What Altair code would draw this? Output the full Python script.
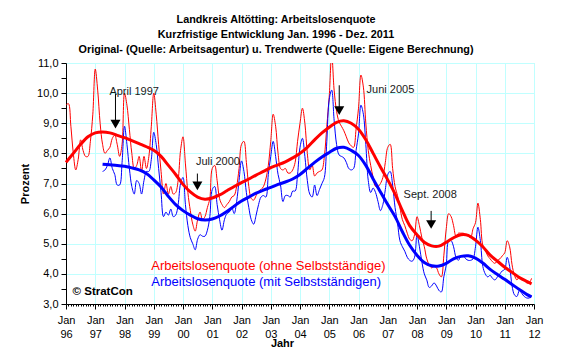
import altair as alt
import pandas as pd

FONT = "Liberation Sans"

# Monthly values, Jan 1996 (index 0) .. Dec 2011 (index 191)
red_monthly = [
    9.6, 9.65, 8.9, 8.0, 7.45, 7.8, 8.45, 8.1, 7.9, 7.9, 8.4, 9.3,
    10.8, 10.1, 9.0, 8.3, 8.0, 8.1, 8.2, 8.5, 8.6, 8.3, 7.9, 8.3,
    10.0, 9.6, 8.8, 8.0, 7.5, 7.6, 7.9, 7.4, 7.9, 7.5, 7.9, 8.9,
    10.0, 9.3, 8.3, 7.4, 6.65, 7.0, 6.65, 6.9, 6.65, 6.7, 7.1, 8.1,
    8.55, 7.65, 6.7, 6.1, 5.65, 5.42, 5.8, 6.05, 5.8, 5.9, 6.2, 6.5,
    7.5, 7.6, 7.1, 6.5, 6.3, 6.2, 6.3, 6.4, 6.55, 6.6, 6.9, 7.5,
    8.3, 8.4, 7.7, 6.9, 6.5, 6.45, 6.6, 6.75, 6.8, 6.9, 7.15, 7.6,
    8.4, 9.3, 8.9, 8.0, 7.5, 7.45, 7.5, 7.35, 7.35, 7.45, 7.7, 8.4,
    9.0, 9.5, 9.0, 8.0, 7.45, 7.6, 7.25, 7.35, 7.4, 7.45, 7.9, 8.9,
    9.9, 11.3, 10.1, 9.4, 9.05, 8.9, 8.75, 8.55, 8.35, 8.25, 8.2, 8.8,
    9.5, 10.6, 10.2, 9.0, 8.1, 7.6, 7.2, 6.9, 6.9, 7.0, 7.2, 7.7,
    8.2, 8.3, 7.5, 6.9, 6.6, 6.2, 5.8, 5.6, 5.35, 5.15, 5.1, 5.3,
    5.9, 5.6, 5.2, 4.9, 4.5, 4.3, 4.2, 4.25, 4.2, 4.0, 3.9, 4.6,
    5.5, 6.0, 5.9, 5.6, 5.25, 5.35, 5.35, 5.35, 5.3, 5.25, 5.2, 5.5,
    5.7, 6.35, 5.8, 4.95, 4.8, 4.6, 4.5, 4.4, 4.35, 4.45, 4.5, 4.6,
    4.7, 5.1, 4.9, 4.3, 3.95, 3.8, 3.9, 3.8, 3.8, 3.7, 3.7, 3.85,
]

blue_monthly = [None] * 15 + [
    7.4, 7.45, 7.6, 7.85, 7.5, 7.3, 6.95, 6.95, 7.7,
    8.9, 8.3, 7.5, 6.9, 6.65, 7.1, 7.0, 6.65, 7.1, 7.4, 7.4, 7.8,
    8.7, 8.3, 7.5, 6.7, 5.9, 6.05, 5.95, 6.15, 5.9, 5.95, 6.3, 7.0,
    7.2, 6.3, 5.6, 5.2, 5.0, 4.8, 5.15, 5.3, 5.25, 5.25, 5.45, 5.9,
    6.8, 6.9, 6.3, 5.8, 5.45, 5.8, 6.0, 6.05, 6.2, 6.0, 6.4, 7.1,
    7.75, 7.4, 6.7, 6.2, 5.8, 5.65, 5.95, 6.3, 6.55, 6.6, 6.55, 7.3,
    7.9, 8.4, 7.9, 7.3, 6.95, 6.4, 6.6, 6.6, 6.55, 6.75, 6.75, 7.3,
    8.2, 8.5, 7.9, 7.1, 6.65, 6.55, 6.95, 6.6, 6.8, 7.0, 7.2, 8.4,
    9.8, 10.1, 9.1, 8.3, 7.95, 7.9, 7.85, 7.7, 7.5, 7.45, 7.5, 8.1,
    8.65, 9.6, 9.3, 8.3, 7.1, 6.7, 6.85, 6.7, 6.4, 6.1, 6.3, 6.8,
    7.3, 7.4, 6.95, 6.2, 5.7, 5.1, 4.9, 4.75, 4.55, 4.45, 4.42, 4.55,
    5.3, 4.9, 4.4, 4.0, 3.8, 3.55, 3.6, 3.7, 3.6, 3.45, 3.4, 3.9,
    4.3, 5.1, 5.1, 4.9, 4.55, 4.45, 4.6, 4.6, 4.5, 4.45, 4.45, 4.5,
    4.9, 5.55, 5.1, 4.25, 4.0, 3.9, 3.95, 3.85, 3.8, 3.9, 4.0, 4.1,
    4.15, 4.55, 4.25, 3.6, 3.3, 3.25, 3.45, 3.35, 3.25, 3.2, 3.2, 3.25,
]

# Trend values read at quarterly month indices
red_trend_idx = list(range(0, 190, 3)) + [191]
red_trend_val = [
    7.7, 8.0, 8.3, 8.55, 8.68, 8.71, 8.68, 8.6, 8.52, 8.42, 8.32, 8.22,
    8.1, 7.9, 7.6, 7.3, 6.97, 6.72, 6.55, 6.48, 6.52, 6.62, 6.76, 6.9,
    7.03, 7.15, 7.28, 7.4, 7.53, 7.62, 7.72, 7.85, 8.0, 8.2, 8.45, 8.68,
    8.87, 9.03, 9.08, 9.0, 8.8, 8.45, 8.0, 7.55, 7.12, 6.65, 6.1, 5.6,
    5.3, 5.05, 4.93, 4.92, 5.05, 5.2, 5.3, 5.28, 5.12, 4.9, 4.62, 4.42,
    4.22, 4.05, 3.88, 3.75, 3.67,
]
blue_trend_idx = list(range(15, 190, 3)) + [191]
blue_trend_val = [
    7.64, 7.62, 7.6, 7.57, 7.52, 7.45, 7.33, 7.12, 6.88, 6.57, 6.3, 6.1,
    5.95, 5.83, 5.79, 5.82, 5.92, 6.07, 6.25, 6.42, 6.55, 6.68, 6.78, 6.87,
    6.97, 7.05, 7.15, 7.3, 7.5, 7.7, 7.88, 8.03, 8.17, 8.2, 8.1, 7.93,
    7.6, 7.15, 6.72, 6.3, 5.9, 5.4, 4.95, 4.62, 4.38, 4.27, 4.26, 4.35,
    4.5, 4.58, 4.6, 4.52, 4.36, 4.15, 3.98, 3.82, 3.65, 3.48, 3.32, 3.24,
]

# Annotations (arrows and labels), positions in data units
ann_text = ["April 1997", "Juli 2000", "Juni 2005", "Sept. 2008"]
ann_text_x = [17.8, 53.3, 123.3, 138.5]
ann_text_y = [10.03, 7.7, 10.09, 6.63]
arrow_x = [20.3, 53.9, 112.1, 149.8]
arrow_top = [9.97, 7.33, 10.26, 6.09]
arrow_head = [8.97, 6.92, 9.42, 5.64]

legend_text = ["Arbeitslosenquote (ohne Selbstständige)",
               "Arbeitslosenquote (mit Selbstständigen)"]
legend_color = ["#ff0000", "#0000ff"]
legend_x = [35.0, 35.0]
legend_y = [4.27, 3.73]

title_lines = ["Landkreis Altötting: Arbeitslosenquote",
               "Kurzfristige Entwicklung Jan. 1996 - Dez. 2011",
               "Original- (Quelle: Arbeitsagentur) u. Trendwerte (Quelle: Eigene Berechnung)"]

months = list(range(len(red_monthly)))
df_red = pd.DataFrame({"i": months, "v": red_monthly})
df_blue = pd.DataFrame({"i": months, "v": blue_monthly}).dropna()
df_rt = pd.DataFrame({"i": red_trend_idx, "v": red_trend_val})
df_bt = pd.DataFrame({"i": blue_trend_idx, "v": blue_trend_val})
df_ann = pd.DataFrame({"x": ann_text_x, "y": ann_text_y, "t": ann_text})
df_arrow = pd.DataFrame({"x": arrow_x, "top": arrow_top, "head": arrow_head})
df_leg = pd.DataFrame({"x": legend_x, "y": legend_y, "t": legend_text, "c": legend_color})
df_copy = pd.DataFrame({"x": [2.7], "y": [3.41], "t": ["© StratCon"]})

x_axis = alt.Axis(
    values=list(range(0, 193)), tickCount=1000,
    labelExpr="datum.value % 12 == 0 ? ['Jan', format((96 + datum.value / 12) % 100, '02d')] : ''",
    labelOverlap=False, labelFlush=False, labelBound=False,
    labelFont=FONT, labelFontSize=11, labelColor="#000000", labelLineHeight=14,
    labelPadding=5,
    tickSize={"condition": {"test": "datum.value % 12 == 0", "value": 5}, "value": 2},
    tickColor="#000000", domainColor="#000000",
    grid=True, gridColor="#c0ffff", gridWidth=1,
    gridOpacity={"condition": {"test": "datum.value % 12 == 0", "value": 1}, "value": 0},
    title="Jahr", titleFont=FONT, titleFontSize=11, titleFontWeight="bold",
    titleColor="#000000", titleX=216, titleY=33, titleBaseline="top", titleAlign="center",
)
y_axis = alt.Axis(
    values=[3 + 0.5 * k for k in range(17)], tickCount=1000,
    labelExpr="datum.value % 1 == 0 ? replace(format(datum.value, '.1f'), '.', ',') : ''",
    labelOverlap=False, labelFont=FONT, labelFontSize=11, labelColor="#000000",
    labelPadding=3, tickSize=5, tickColor="#000000", domainColor="#000000",
    grid=True, gridColor="#c0ffff", gridWidth=1,
    gridOpacity={"condition": {"test": "datum.value % 1 == 0", "value": 1}, "value": 0},
    title="Prozent", titleFont=FONT, titleFontSize=11, titleFontWeight="bold",
    titleColor="#000000", titleX=-36,
)

xs = alt.Scale(domain=[0, 192], nice=False, zero=False)
ys = alt.Scale(domain=[3, 11], nice=False, zero=False)

base_x = alt.X("i:Q", scale=xs, axis=x_axis)
base_y = alt.Y("v:Q", scale=ys, axis=y_axis)

red_line = alt.Chart(df_red).mark_line(color="#ff0000", strokeWidth=1, interpolate="catmull-rom", clip=True).encode(x=base_x, y=base_y)
blue_line = alt.Chart(df_blue).mark_line(color="#0000ff", strokeWidth=1, interpolate="catmull-rom", clip=True).encode(x="i:Q", y="v:Q")
red_tr = alt.Chart(df_rt).mark_line(color="#ff0000", strokeWidth=3, interpolate="catmull-rom").encode(x="i:Q", y="v:Q")
blue_tr = alt.Chart(df_bt).mark_line(color="#0000ff", strokeWidth=3, interpolate="catmull-rom").encode(x="i:Q", y="v:Q")

arrow_shaft = alt.Chart(df_arrow).mark_rule(color="#000000", strokeWidth=1).encode(
    x=alt.X("x:Q", scale=xs), y=alt.Y("top:Q", scale=ys), y2="head:Q")
arrow_tip = alt.Chart(df_arrow).mark_point(shape="triangle-down", filled=True, color="#000000", size=100, opacity=1).encode(
    x=alt.X("x:Q", scale=xs), y=alt.Y("head:Q", scale=ys))
ann = alt.Chart(df_ann).mark_text(align="left", baseline="middle", font=FONT, fontSize=11, color="#1a1a1a").encode(
    x=alt.X("x:Q", scale=xs), y=alt.Y("y:Q", scale=ys), text="t:N")
leg = alt.Chart(df_leg).mark_text(align="left", baseline="middle", font=FONT, fontSize=13).encode(
    x=alt.X("x:Q", scale=xs), y=alt.Y("y:Q", scale=ys), text="t:N", color=alt.Color("c:N", scale=None))
cpy = alt.Chart(df_copy).mark_text(align="left", baseline="middle", font=FONT, fontSize=11.5, fontWeight="bold", color="#000000").encode(
    x=alt.X("x:Q", scale=xs), y=alt.Y("y:Q", scale=ys), text="t:N")

chart = alt.layer(
    red_line, blue_line, red_tr, blue_tr, arrow_shaft, arrow_tip, ann, leg, cpy
).properties(
    width=468, height=241,
    autosize=alt.AutoSizeParams(type="none"),
    padding={"left": 58, "top": 55, "right": 15, "bottom": 46},
    title=alt.TitleParams(text=title_lines, font=FONT, fontSize=10.8, fontWeight="bold",
                          color="#000000", lineHeight=15, anchor="middle", dx=-24, offset=2),
).configure_view(
    fill="#c0c0c0", stroke="#808080", strokeWidth=1
).configure(background="#ffffff")

chart.save("out.html", embed_options={"renderer": "svg", "actions": False})
